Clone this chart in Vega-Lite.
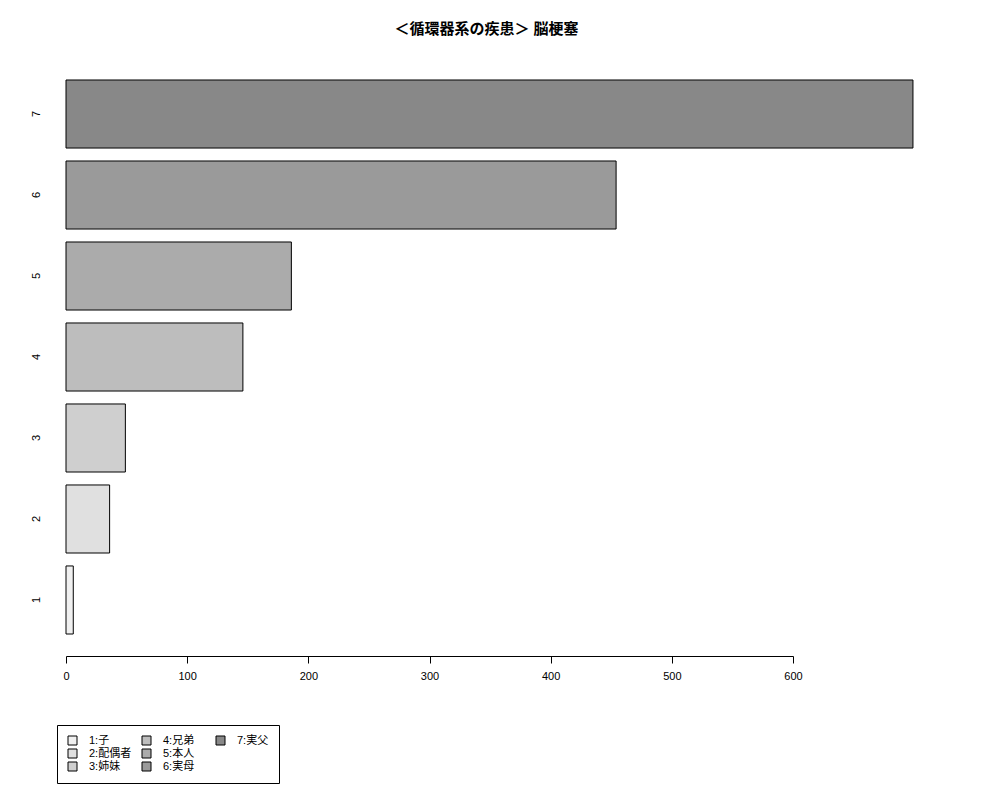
{
  "$schema": "https://vega.github.io/schema/vega-lite/v6.json",
  "width": 727,
  "height": 598,
  "autosize": {"type": "none"},
  "padding": {"left": 66, "top": 58, "right": 207, "bottom": 144},
  "background": "white",
  "config": {
    "view": {"stroke": null},
    "font": "Liberation Sans, Noto Sans CJK JP"
  },
  "title": {
    "text": "＜循環器系の疾患＞ 脳梗塞",
    "font": "Liberation Sans, Noto Sans CJK JP",
    "fontSize": 15,
    "fontWeight": "bold",
    "color": "black",
    "anchor": "middle",
    "frame": "group",
    "dx": 57,
    "offset": 6,
    "baseline": "bottom"
  },
  "data": {
    "values": [
      {"k": "1", "label": "1:子", "value": 6},
      {"k": "2", "label": "2:配偶者", "value": 36},
      {"k": "3", "label": "3:姉妹", "value": 49},
      {"k": "4", "label": "4:兄弟", "value": 146},
      {"k": "5", "label": "5:本人", "value": 186},
      {"k": "6", "label": "6:実母", "value": 454},
      {"k": "7", "label": "7:実父", "value": 699}
    ]
  },
  "mark": {"type": "bar", "stroke": "black", "strokeWidth": 1, "clip": false},
  "encoding": {
    "y": {
      "field": "k",
      "type": "nominal",
      "sort": "descending",
      "scale": {"paddingInner": 0.16, "paddingOuter": 0.2716},
      "axis": {
        "title": null,
        "ticks": false,
        "domain": false,
        "labelAngle": 270,
        "labelAlign": "center",
        "labelBaseline": "middle",
        "labelPadding": 30,
        "labelFontSize": 11,
        "labelColor": "black"
      }
    },
    "x": {
      "field": "value",
      "type": "quantitative",
      "scale": {"domain": [0, 600], "nice": false},
      "axis": {
        "title": null,
        "values": [0, 100, 200, 300, 400, 500, 600],
        "grid": false,
        "tickSize": 7,
        "tickColor": "black",
        "domainColor": "black",
        "labelPadding": 7,
        "labelFontSize": 11,
        "labelColor": "black",
        "labelFlush": false,
        "labelOverlap": false
      }
    },
    "fill": {
      "field": "label",
      "type": "nominal",
      "scale": {
        "domain": ["1:子", "2:配偶者", "3:姉妹", "4:兄弟", "5:本人", "6:実母", "7:実父", " "],
        "range": ["#f0f0f0", "#e0e0e0", "#cfcfcf", "#bdbdbd", "#ababab", "#9a9a9a", "#888888", "transparent"]
      },
      "legend": {
        "title": null,
        "orient": "none",
        "direction": "vertical",
        "legendX": -9,
        "legendY": 667,
        "values": ["1:子", "2:配偶者", "3:姉妹", "4:兄弟", "5:本人", "6:実母", "7:実父", " "],
        "columns": 3,
        "gridAlign": "all",
        "columnPadding": 8,
        "rowPadding": 0,
        "symbolType": "square",
        "symbolSize": 81,
        "symbolStrokeColor": "black",
        "symbolStrokeWidth": 1,
        "labelFontSize": 11,
        "labelOffset": 11,
        "labelColor": "black",
        "labelLimit": 0,
        "strokeColor": "black",
        "fillColor": "white",
        "padding": 10,
        "encode": {
          "symbols": {
            "update": {
              "stroke": {"signal": "datum.value === ' ' ? 'transparent' : 'black'"}
            }
          }
        }
      }
    }
  }
}
